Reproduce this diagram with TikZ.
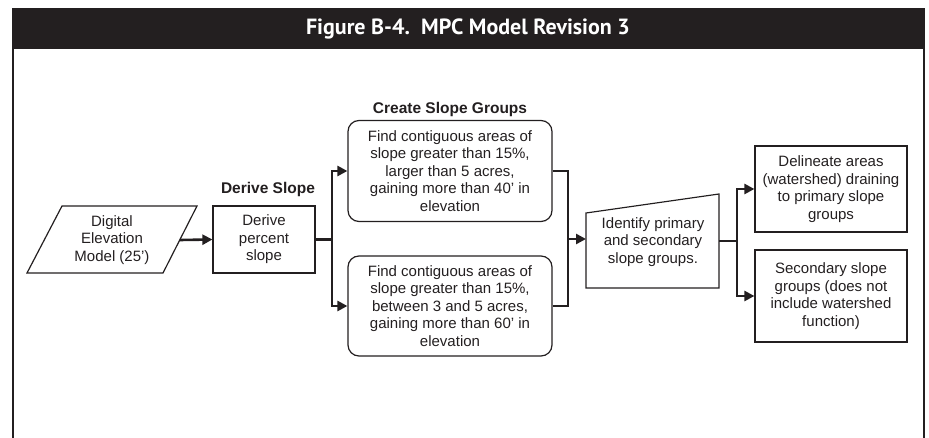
\documentclass[tikz,border=0pt]{standalone}
\usepackage{fontspec}
\setmainfont{Liberation Sans}
\newfontfamily\titlefont{PT Sans}
\usetikzlibrary{arrows.meta}
\definecolor{ink}{HTML}{231F20}
\tikzset{
  box/.style={draw=ink, line width=1.2pt, text=ink, align=center, inner sep=0pt,
    font=\fontsize{15}{17.5}\selectfont},
  rbox/.style={box, rounded corners=11pt},
  lbl/.style={text=ink, font=\fontsize{15.5}{18}\selectfont\bfseries},
  conn/.style={draw=ink, line width=2.6pt},
  arr/.style={conn, -{Triangle[length=10pt,width=10pt]}},
}
\begin{document}
\begin{tikzpicture}[x=1pt,y=-1pt]
\useasboundingbox (0,0) rectangle (929,438);
% frame and title
\fill[ink] (12,8) rectangle (925,49);
\draw[ink, line width=1.4pt] (13,49) -- (13,438);
\draw[ink, line width=1.4pt] (924,49) -- (924,438);
\node[text=white, font=\titlefont\fontsize{22}{24}\selectfont\bfseries] (title) at (468,28.5) {Figure B-4.\ \ MPC Model Revision 3};
% input parallelogram
\draw[ink, line width=1.2pt] (27,273) -- (163,273) -- (197,206) -- (62,206) -- cycle;
\node[box, draw=none] (dem) at (112,240) {Digital\\Elevation\\Model (25’)};
\coordinate (demout) at (180,240);
% derive slope
\node[lbl] (lbl1) at (268,189) {Derive Slope};
\node[box, minimum width=102pt, minimum height=67pt] (derive) at (264,239.5) {Derive\\percent\\slope};
% slope groups
\node[lbl] (lbl2) at (450,109) {Create Slope Groups};
\node[rbox, minimum width=204pt, minimum height=101pt] (g1) at (450,171) {Find contiguous areas of\\slope greater than 15\%,\\larger than 5 acres,\\gaining more than 40’ in\\elevation};
\node[rbox, minimum width=204pt, minimum height=100pt] (g2) at (450,306) {Find contiguous areas of\\slope greater than 15\%,\\between 3 and 5 acres,\\gaining more than 60’ in\\elevation};
% identify
\draw[ink, line width=1.2pt] (586,213) -- (719,194) -- (719,288) -- (586,288) -- cycle;
\node[box, draw=none] (ident) at (653,242) {Identify primary\\and secondary\\slope groups.};
\coordinate (identin) at (586,239);
\coordinate (identout) at (719,241);
% outputs
\node[box, minimum width=152pt, minimum height=86pt] (a) at (831,189) {Delineate areas\\(watershed) draining\\to primary slope\\groups};
\node[box, minimum width=152pt, minimum height=92pt] (b) at (831,296) {Secondary slope\\groups (does not\\include watershed\\function)};
% connectors
\coordinate (s1) at (332,239.5);
\coordinate (m1) at (568,239);
\coordinate (s2) at (737,241);
\draw[arr] (demout) -- (derive.west);
\draw[conn] (derive.east) -- (s1);
\draw[arr] (s1) |- (g1.west);
\draw[arr] (s1) |- (g2.west);
\draw[conn] (g1.east) -| (m1);
\draw[conn] (g2.east) -| (m1);
\draw[arr] (m1) -- (identin);
\draw[conn] (identout) -- (s2);
\draw[arr] (s2) |- (a.west);
\draw[arr] (s2) |- (b.west);
\end{tikzpicture}
\end{document}
